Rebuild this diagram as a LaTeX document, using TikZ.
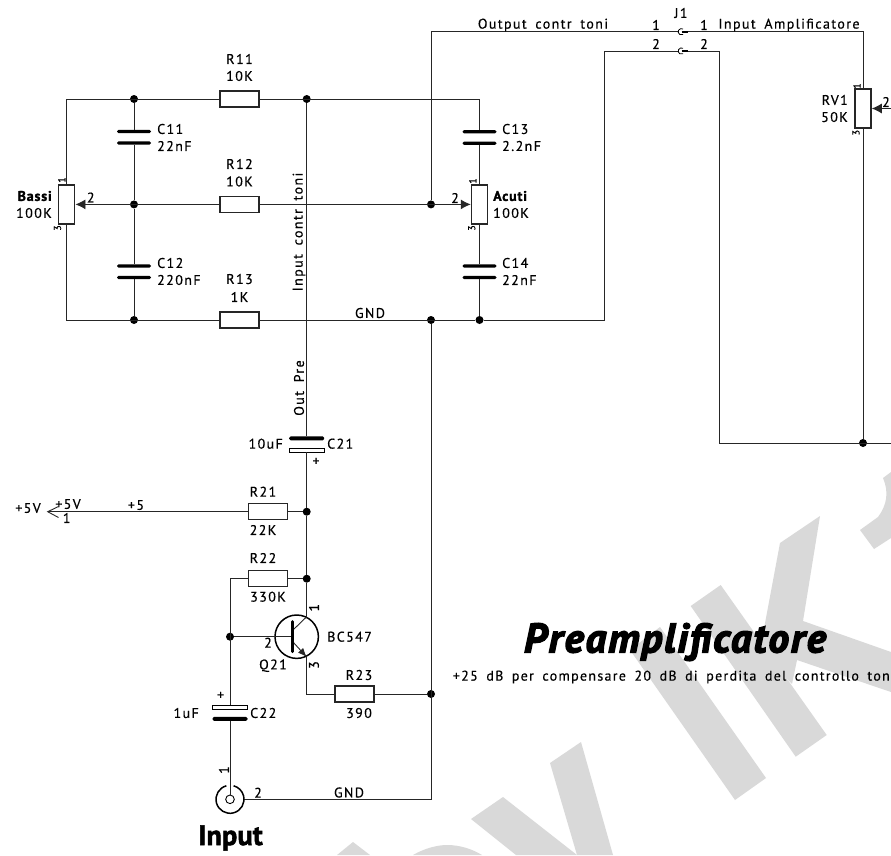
\documentclass[tikz,border=0pt]{standalone}
\usepackage{fontspec}
\setmainfont[LetterSpace=10,WordSpace=1.7,FakeBold=0.4]{PT Sans}
\usetikzlibrary{positioning}
\usetikzlibrary{arrows.meta}

\begin{document}
\begin{tikzpicture}[x=1pt,y=-1pt,
  wire/.style={line width=0.9pt,black!85},
  wiper/.style={wire,-{Latex[length=10pt,width=10pt]}},
  res/.style={draw,line width=1.5pt,inner sep=0pt,minimum width=39pt,minimum height=16pt,black!85},
  pot/.style={draw,line width=1.5pt,inner sep=0pt,minimum width=16pt,minimum height=39pt,black!85},
  plate/.style={fill=black,rounded corners=1.5pt,inner sep=0pt,minimum width=34pt,minimum height=3.2pt},
  polplate/.style={draw,line width=0.9pt,inner sep=0pt,minimum width=35pt,minimum height=3.5pt},
  dot/.style={circle,fill=black,inner sep=0pt,minimum size=8pt},
  txt/.style={inner sep=0pt,font=\fontsize{14}{14}\selectfont},
  pinno/.style={inner sep=0pt,font=\fontsize{10}{10}\selectfont,rotate=90},
  bold/.style={inner sep=0pt,font=\fontsize{14}{14}\selectfont\bfseries\addfontfeature{LetterSpace=6,FakeBold=1.5}},
  wmark/.style={fill=black!15}]

\useasboundingbox (0,0) rectangle (891,855);
\fill[white] (0,0) rectangle (891,855);

%watermark
\fill[wmark] (720.7,585) -- (690.7,606) -- (795.7,756.7) -- (826.7,735) -- cycle;
\fill[wmark] (660,627) -- (630,650) -- (735,800) -- (766,778) -- cycle;
\fill[wmark] (820,516) -- (780,543) -- (760,650) -- (792,684) -- (797,660) -- (891,692) -- (891,652) -- (803,621) -- cycle;
\fill[wmark] (860,530) -- (874,549) -- (891,538) -- (891,472) -- (883,478) .. controls (889,492) and (887,505) .. (878,517) -- cycle;
\fill[wmark] (581,742) -- (550,763) -- (577,855) -- (613,855) -- cycle;
\fill[wmark] (503,797) -- (471,819) -- (516,855) -- (577,855) -- cycle;
\fill[wmark] (413,855) .. controls (425,848) and (438,845) .. (447,845) .. controls (460,845) and (472,849) .. (482,855) -- cycle;
\fill[wmark] (353,842) -- (337,855) -- (370,855) -- cycle;

%corners and junctions
\coordinate (TL) at (66.7,99);
\coordinate (BL) at (66.7,320);
\coordinate (TR) at (479.5,99);
\node[dot] (J1t) at (134,99) {};
\node[dot] (J1m) at (134,204.4) {};
\node[dot] (J1b) at (134,320) {};
\node[dot] (J2t) at (306.7,99) {};
\node[dot] (J2m) at (431,204.4) {};
\node[dot] (J3b) at (431,320) {};
\node[dot] (J4b) at (479.5,320) {};
\node[dot] (J5) at (306.7,511.7) {};
\node[dot] (J6) at (306.7,578.7) {};
\node[dot] (J7) at (230,636.7) {};
\node[dot] (J8) at (431,694) {};
\node[dot] (J9) at (863,443) {};

%tone network
\node[res] (R11) at (239.5,99) {};
\node[res] (R12) at (239.5,204.4) {};
\node[res] (R13) at (239.5,320) {};
\node[pot] (Bassi) at (66.7,204.4) {};
\node[pot] (Acuti) at (479.5,204.4) {};
\node[pot] (RV1) at (863,108.5) {};
\node[plate] (C11a) at (134,131.5) {};
\node[plate] (C11b) at (134,143) {};
\node[plate] (C12a) at (134,266) {};
\node[plate] (C12b) at (134,277.4) {};
\node[plate] (C13a) at (479.5,131.7) {};
\node[plate] (C13b) at (479.5,143.2) {};
\node[plate] (C14a) at (479.5,266) {};
\node[plate] (C14b) at (479.5,277.4) {};

\draw[wire] (Bassi.north) -- (TL) -- (R11.west);
\draw[wire] (R11.east) -- (TR) -- (C13a);
\draw[wire] (C13b) -- (Acuti.north);
\draw[wire] (Acuti.south) -- (C14a);
\draw[wire] (C14b) -- (J4b);
\draw[wire] (Bassi.south) -- (BL) -- (R13.west);
\draw[wire] (R13.east) -- (J4b);
\draw[wire] (J1t) -- (C11a);
\draw[wire] (C11b) -- (J1m);
\draw[wire] (J1m) -- (C12a);
\draw[wire] (C12b) -- (J1b);
\draw[wiper] (R12.west) -- (Bassi.east);
\draw[wiper] (R12.east) -- (Acuti.west);

%J1
\coordinate (JAa) at (677.5,31.7);
\coordinate (JAb) at (688,31.7);
\coordinate (JBa) at (677.5,51);
\coordinate (JBb) at (688,51);
\coordinate (TM) at (431,31.7);
\coordinate (TA) at (863,31.7);
\coordinate (LA) at (604,320);
\coordinate (LB) at (604,51);
\coordinate (RA) at (719,51);
\coordinate (RB) at (719,443);
\coordinate (RC) at (891,443);
\coordinate (RD) at (891,108.5);
\draw[wire] (J2m) -- (TM) -- (JAa);
\draw[wire] (JAb) -- (TA) -- (RV1.north);
\draw[wire] (J4b) -- (LA) -- (LB) -- (JBa);
\draw[wire] (JBb) -- (RA) -- (RB) -- (RC);
\draw[wire] (RV1.south) -- (J9);
\draw[wiper] (RD) -- (RV1.east);
\draw[line width=0.8pt] (683,29) arc[start angle=60,end angle=300,radius=3.2pt];
\draw[line width=0.8pt] (683,48.3) arc[start angle=60,end angle=300,radius=3.2pt];
\draw[line width=1.8pt] (681.5,31.7) -- (JAb);
\draw[line width=1.8pt] (681.5,51) -- (JBb);

%preamp
\node[plate,minimum width=35pt,minimum height=4pt] (C21a) at (306.7,438.3) {};
\node[polplate] (C21b) at (306.7,450.2) {};
\node[polplate] (C22a) at (230,707.6) {};
\node[plate,minimum width=35pt,minimum height=4pt] (C22b) at (230,718.8) {};
\node[res] (R21) at (268,511.7) {};
\node[res] (R22) at (268,578.7) {};
\node[res] (R23) at (354.5,694) {};
\coordinate (Vtip) at (47.7,511.7);
\coordinate (Va) at (58.5,506.5);
\coordinate (Vb) at (58.5,517.5);
\coordinate (Rb) at (230,578.7);
\coordinate (Qc) at (306.7,616.7);
\coordinate (Qe) at (306.7,657);
\coordinate (Qcb) at (293,630);
\coordinate (Qeb) at (293,642);
\coordinate (Qcorner) at (306.7,694);
\coordinate (Qbar) at (292.6,636.7);
\coordinate (Qbt) at (292.6,621.7);
\coordinate (Qbb) at (292.6,651.7);
\coordinate (Incorner) at (431,799.3);
\node[circle,draw,line width=1.5pt,inner sep=0pt,minimum size=43.4pt] (Q21) at (296.7,636.7) {};
\node[circle,draw,line width=0.9pt,inner sep=0pt,minimum size=8.6pt] (Inp) at (230,799.3) {};
\coordinate (Inr) at (244,799.3);

\draw[wire] (J2t) -- (C21a);
\draw[wire] (C21b) -- (J5);
\draw[wire] (J5) -- (J6);
\draw[wire] (J6) -- (Qc);
\draw[wire] (J5) -- (R21.east);
\draw[wire] (J6) -- (R22.east);
\draw[wire] (R21.west) -- (Vtip);
\draw[wire] (Va) -- (Vtip) -- (Vb);
\draw[wire] (R22.west) -- (Rb) -- (C22a);
\draw[wire] (J7) -- (Qbar);
\draw[wire] (C22b) -- (Inp);
\draw[wire] (Qe) -- (Qcorner) -- (R23.west);
\draw[wire] (R23.east) -- (J8);
\draw[wire] (J3b) -- (Incorner) -- (Inr);
\draw[wire] (Qcb) -- (Qc);
\draw[wire,-{Latex[length=9pt,width=7pt]}] (Qeb) -- (Qe);
\draw[line width=3pt,line cap=round] (Qbt) -- (Qbb);
\draw[line width=1.5pt] ([shift={(105:14pt)}]Inp) arc[start angle=105,end angle=435,radius=14pt];

%values and references
\node[txt] (lR11) at (239.5,59) {R11};
\node[txt] (vR11) at (239.5,76) {10K};
\node[txt] (lR12) at (239.5,164) {R12};
\node[txt] (vR12) at (239.5,181.5) {10K};
\node[txt] (lR13) at (239.5,279) {R13};
\node[txt] (vR13) at (239.5,297) {1K};
\node[txt,anchor=west] (lC11) at (157,129) {C11};
\node[txt,anchor=west] (vC11) at (157,146) {22nF};
\node[txt,anchor=west] (lC12) at (157,263) {C12};
\node[txt,anchor=west] (vC12) at (157,280) {220nF};
\node[txt,anchor=west] (lC13) at (502,129) {C13};
\node[txt,anchor=west] (vC13) at (502,146) {2.2nF};
\node[txt,anchor=west] (lC14) at (502,263) {C14};
\node[txt,anchor=west] (vC14) at (502,280) {22nF};
\node[bold,anchor=east] (lBassi) at (52,196) {Bassi};
\node[txt,anchor=east] (vBassi) at (52,213) {100K};
\node[bold,anchor=west] (lAcuti) at (493,196) {Acuti};
\node[txt,anchor=west] (vAcuti) at (493,213) {100K};
\node[txt,anchor=east] (lRV1) at (848,100) {RV1};
\node[txt,anchor=east] (vRV1) at (848,117) {50K};
\node[txt] (lJ1) at (681,13) {J1};
\node[pinno] (p1B) at (61.7,180) {1};
\node[pinno] (p3B) at (57.5,228) {3};
\node[txt] (p2B) at (90.7,197.5) {2};
\node[pinno] (p1A) at (472.7,181) {1};
\node[pinno] (p3A) at (471.7,228) {3};
\node[txt] (p2A) at (455,198) {2};
\node[pinno] (p1R) at (857,86) {1};
\node[pinno] (p3R) at (856,132.7) {3};
\node[txt] (p2R) at (886,102) {2};
\node[txt] (pJ1a) at (656,25) {1};
\node[txt] (pJ2a) at (656,44) {2};
\node[txt] (pJ1b) at (704,25) {1};
\node[txt] (pJ2b) at (704,44) {2};
\node[txt] (nOut) at (543,25) {Output contr toni};
\node[txt] (nAmp) at (789,25) {Input Amplificatore};
\node[txt] (nGnd) at (370,313) {GND};
\node[txt] (nGnd2) at (349,792.5) {GND};
\node[txt,rotate=90] (nIn) at (299,232) {Input contr toni};
\node[txt,rotate=90] (nPre) at (299,388) {Out Pre};
\node[txt,anchor=east] (vC21) at (283,443.7) {10uF};
\node[txt,anchor=west] (lC21) at (327,443.7) {C21};
\node[txt] (plus1) at (316,461.7) {+};
\node[txt] (lR21) at (263,491.7) {R21};
\node[txt] (vR21) at (263,530) {22K};
\node[txt] (lR22) at (263,558) {R22};
\node[txt] (vR22) at (268,596.7) {330K};
\node[txt] (lR23) at (359,675) {R23};
\node[txt] (vR23) at (359,713) {390};
\node[txt] (n5) at (136,505) {+5};
\node[txt] (lV) at (28,508) {+5V};
\node[txt] (pV) at (68,504) {+5V};
\node[txt] (pV1) at (66.7,518) {1};
\node[txt,rotate=90] (pQ1) at (314,607.7) {1};
\node[txt,rotate=90] (pQ3) at (314,665) {3};
\node[txt] (pQ2) at (268,642.7) {2};
\node[txt] (lQ21) at (273,665.7) {Q21};
\node[txt,anchor=west] (vQ21) at (327,636.7) {BC547};
\node[txt,anchor=west] (lC22) at (250,713) {C22};
\node[txt,anchor=east] (vC22) at (199,713) {1uF};
\node[txt] (plus2) at (220.7,695.7) {+};
\node[txt,rotate=90] (pIn1) at (224,770) {1};
\node[txt] (pIn2) at (258,792.7) {2};
\node[inner sep=0pt,font=\fontsize{28}{28}\selectfont\bfseries\addfontfeature{LetterSpace=1,FakeBold=2}] (lIn) at (230.5,838) {Input};
\node[inner sep=0pt,font=\fontsize{41}{41}\selectfont\bfseries\itshape\addfontfeature{LetterSpace=4.7,FakeBold=3.5}] (lTitle) at (675,642) {Preamplificatore};
\node[inner sep=0pt,font=\fontsize{14}{14}\selectfont\addfontfeature{LetterSpace=9.2},anchor=east] (lNote) at (890,677) {+25 dB per compensare 20 dB di perdita del controllo ton};

\end{tikzpicture}
\end{document}
